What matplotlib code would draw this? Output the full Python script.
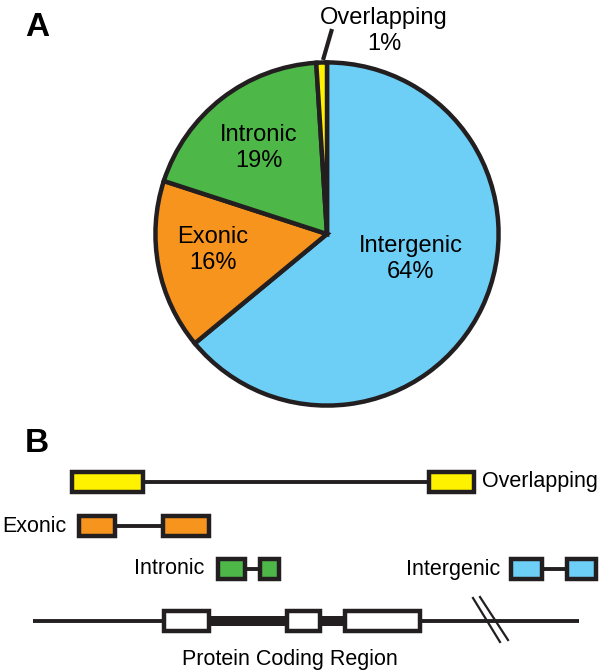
import matplotlib
matplotlib.use("Agg")
import matplotlib.pyplot as plt
from matplotlib.patches import Rectangle

plt.rcParams["font.family"] = ["Liberation Sans", "DejaVu Sans"]

# ---- data ----
categories = ["Intergenic", "Exonic", "Intronic", "Overlapping"]
percentages = [64, 16, 19, 1]
colors = ["#6DCFF6", "#F7941D", "#4DB848", "#FFF200"]

# gene model rows for panel B (exon start/end along the x axis)
overlap_exons = [(72, 143), (429, 474)]
exonic_exons = [(79, 115), (163, 209)]
intronic_exons = [(218, 245), (260, 279)]
intergenic_exons = [(511, 542), (567, 596)]
coding_exons = [(164, 209), (287, 320), (345, 420)]
coding_span = (33, 579)

EDGE = "#231F20"

fig = plt.figure(figsize=(6, 6.72), dpi=100)

# ---- panel A: pie ----
cx, cy, r = 327, 234, 175
axp = fig.add_axes([(cx - r) / 600, (672 - cy - r) / 672, 2 * r / 600, 2 * r / 672])
axp.pie(percentages, colors=colors, startangle=90, counterclock=False, radius=1,
        wedgeprops=dict(edgecolor=EDGE, linewidth=3.2, joinstyle="miter"))
axp.set_xlim(-1.02, 1.02); axp.set_ylim(-1.02, 1.02)
axp.set_aspect("equal"); axp.axis("off")

# overlay axes in pixel coordinates
ax = fig.add_axes([0, 0, 1, 1])
ax.set_xlim(0, 600); ax.set_ylim(672, 0); ax.axis("off")

label_pos = {"Intergenic": (411, 259), "Exonic": (213, 250), "Intronic": (259, 148), "Overlapping": (384, 31)}
for name, pct in zip(categories, percentages):
    x, y = label_pos[name]
    ax.text(x, y, f"{name}\n{pct}%", ha="center", va="center", fontsize=17, linespacing=1.2, color="black")
ax.plot([323, 332], [60, 29], color=EDGE, lw=3, solid_capstyle="butt")

ax.text(37, 28, "A", fontsize=24, fontweight="bold", ha="center", va="center")
ax.text(37, 444, "B", fontsize=24, fontweight="bold", ha="center", va="center")


# ---- panel B: gene models ----
def draw_model(exons, yc, color, h=20, line_lw=2.8):
    ax.plot([exons[0][1], exons[-1][0]], [yc, yc], color=EDGE, lw=line_lw, zorder=1, solid_capstyle="butt")
    for s, e in exons:
        ax.add_patch(Rectangle((s, yc - h / 2), e - s, h, facecolor=color, edgecolor=EDGE, lw=3.2, zorder=2))


draw_model(overlap_exons, 482, colors[3])
draw_model(exonic_exons, 526, colors[1])
draw_model(intronic_exons, 569, colors[2])
draw_model(intergenic_exons, 569, colors[0])

ax.text(482, 482, "Overlapping", fontsize=15.5, ha="left", va="center")
ax.text(66, 526, "Exonic", fontsize=15.5, ha="right", va="center")
ax.text(204, 569, "Intronic", fontsize=15.5, ha="right", va="center")
ax.text(500, 569, "Intergenic", fontsize=15.5, ha="right", va="center")

# protein coding region
yc = 621
ax.plot(coding_span, [yc, yc], color=EDGE, lw=2.8, zorder=1, solid_capstyle="butt")
for (s0, e0), (s1, e1) in zip(coding_exons[:-1], coding_exons[1:]):
    ax.add_patch(Rectangle((e0, yc - 5), s1 - e0, 10, facecolor=EDGE, edgecolor="none", zorder=1))
for s, e in coding_exons:
    ax.add_patch(Rectangle((s, yc - 10), e - s, 20, facecolor="white", edgecolor=EDGE, lw=3.2, zorder=2))
ax.plot([473, 500], [598, 642], color=EDGE, lw=1.6, zorder=3)
ax.plot([480, 508], [597, 640], color=EDGE, lw=1.6, zorder=3)
ax.text(290, 659, "Protein Coding Region", fontsize=15.5, ha="center", va="center")

fig.savefig("out.png", dpi=100)
